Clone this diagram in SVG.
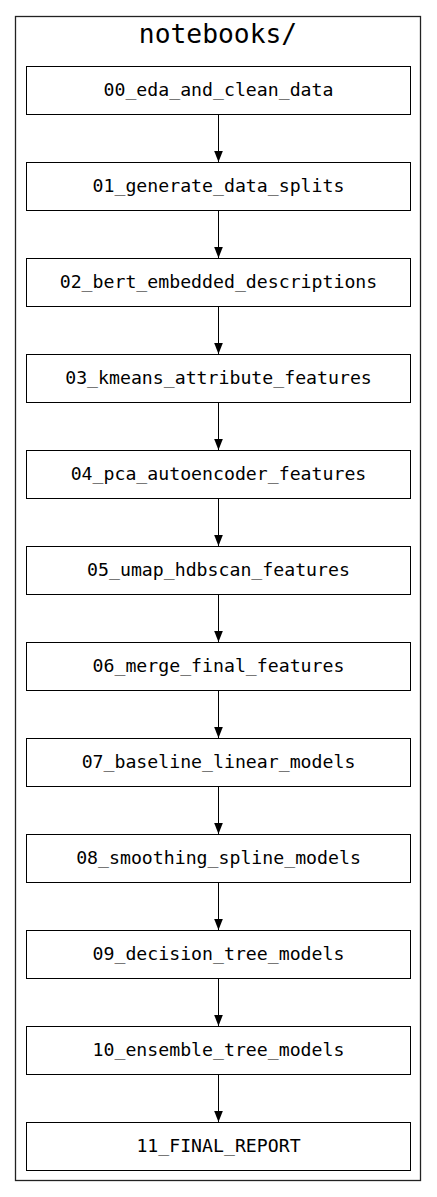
<svg xmlns="http://www.w3.org/2000/svg" width="437" height="1197" viewBox="0 0 437 1197">
<style>
.bg{fill:#fff}
.cluster{fill:none;stroke:#222;stroke-width:1.3}
.node rect{fill:#fff;stroke:#000;stroke-width:1}
.node text{font-family:"DejaVu Sans Mono",monospace;font-size:18.2px;fill:#000;text-anchor:middle}
.title{font-family:"DejaVu Sans Mono",monospace;font-size:26.3px;fill:#000;text-anchor:middle}
.edge{stroke:#000;stroke-width:1;fill:none}
</style>
<defs>
<marker id="ah" markerWidth="11" markerHeight="14" refX="14" refY="5.5" orient="auto" markerUnits="userSpaceOnUse" viewBox="0 0 14 11">
<path d="M0,0 L14,5.5 L0,11 Z" fill="#000"/>
</marker>
</defs>
<rect class="bg" x="0" y="0" width="437" height="1197"/>
<g id="cluster">
<rect class="cluster" x="15.5" y="16.5" width="405" height="1164"/>
<text class="title" x="218" y="43">notebooks/</text>
</g>
<g id="connectors">
<line class="edge" x1="218.5" y1="114" x2="218.5" y2="162" marker-end="url(#ah)"/>
<line class="edge" x1="218.5" y1="210" x2="218.5" y2="258" marker-end="url(#ah)"/>
<line class="edge" x1="218.5" y1="306" x2="218.5" y2="354" marker-end="url(#ah)"/>
<line class="edge" x1="218.5" y1="402" x2="218.5" y2="450" marker-end="url(#ah)"/>
<line class="edge" x1="218.5" y1="498" x2="218.5" y2="546" marker-end="url(#ah)"/>
<line class="edge" x1="218.5" y1="594" x2="218.5" y2="642" marker-end="url(#ah)"/>
<line class="edge" x1="218.5" y1="690" x2="218.5" y2="738" marker-end="url(#ah)"/>
<line class="edge" x1="218.5" y1="786" x2="218.5" y2="834" marker-end="url(#ah)"/>
<line class="edge" x1="218.5" y1="882" x2="218.5" y2="930" marker-end="url(#ah)"/>
<line class="edge" x1="218.5" y1="978" x2="218.5" y2="1026" marker-end="url(#ah)"/>
<line class="edge" x1="218.5" y1="1074" x2="218.5" y2="1122" marker-end="url(#ah)"/>
</g>
<g id="n00" class="node"><rect x="26.5" y="66.5" width="384" height="48"/><text x="218.5" y="96">00_eda_and_clean_data</text></g>
<g id="n01" class="node"><rect x="26.5" y="162.5" width="384" height="48"/><text x="218.5" y="192">01_generate_data_splits</text></g>
<g id="n02" class="node"><rect x="26.5" y="258.5" width="384" height="48"/><text x="218.5" y="288">02_bert_embedded_descriptions</text></g>
<g id="n03" class="node"><rect x="26.5" y="354.5" width="384" height="48"/><text x="218.5" y="384">03_kmeans_attribute_features</text></g>
<g id="n04" class="node"><rect x="26.5" y="450.5" width="384" height="48"/><text x="218.5" y="480">04_pca_autoencoder_features</text></g>
<g id="n05" class="node"><rect x="26.5" y="546.5" width="384" height="48"/><text x="218.5" y="576">05_umap_hdbscan_features</text></g>
<g id="n06" class="node"><rect x="26.5" y="642.5" width="384" height="48"/><text x="218.5" y="672">06_merge_final_features</text></g>
<g id="n07" class="node"><rect x="26.5" y="738.5" width="384" height="48"/><text x="218.5" y="768">07_baseline_linear_models</text></g>
<g id="n08" class="node"><rect x="26.5" y="834.5" width="384" height="48"/><text x="218.5" y="864">08_smoothing_spline_models</text></g>
<g id="n09" class="node"><rect x="26.5" y="930.5" width="384" height="48"/><text x="218.5" y="960">09_decision_tree_models</text></g>
<g id="n10" class="node"><rect x="26.5" y="1026.5" width="384" height="48"/><text x="218.5" y="1056">10_ensemble_tree_models</text></g>
<g id="n11" class="node"><rect x="26.5" y="1122.5" width="384" height="48"/><text x="218.5" y="1152">11_FINAL_REPORT</text></g>
</svg>
